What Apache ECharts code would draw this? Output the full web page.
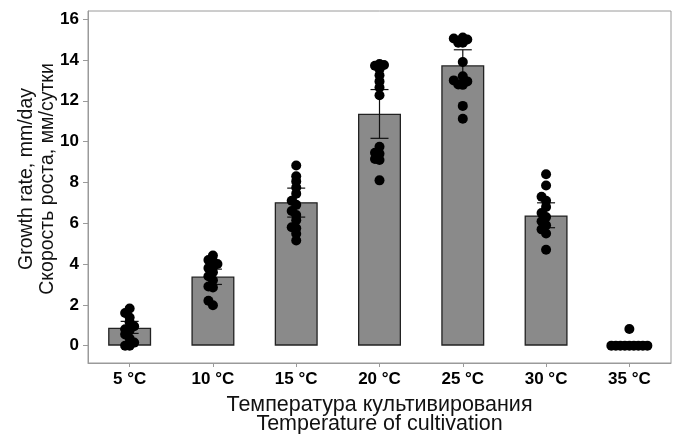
<!DOCTYPE html>
<html>
<head>
<meta charset="utf-8">
<script src="https://cdn.jsdelivr.net/npm/echarts@6/dist/echarts.min.js"></script>
<style>
  html, body { margin: 0; padding: 0; background: #fff; }
  #chart1 { width: 674px; height: 434px; }
</style>
</head>
<body>
<div id="chart1"></div>
<script>
var categories = ['5 °C', '10 °C', '15 °C', '20 °C', '25 °C', '30 °C', '35 °C'];
var means = [0.88, 3.39, 7.03, 11.37, 13.74, 6.38, 0];
var errLow = [0.6, 3.0, 6.3, 10.16, 13.0, 5.78, 0];
var errHigh = [1.19, 3.75, 7.72, 12.55, 14.5, 7.0, 0];
var yTicks = [0, 2, 4, 6, 8, 10, 12, 14, 16];

// individual measurements per temperature
var g5 = [1.82, 1.6, 1.38, 1.15, 0.95, 0.8, 0.75, 0.55, 0.35, 0.15, 0, 0];
var g10 = [4.42, 4.2, 4.15, 4.0, 3.85, 3.8, 3.6, 3.4, 3.2, 2.9, 2.85, 2.2, 1.98];
var g15 = [8.83, 8.3, 8.05, 7.75, 7.45, 7.1, 6.9, 6.6, 6.4, 6.15, 5.8, 5.75, 5.48, 5.15];
var g20 = [13.8, 13.75, 13.72, 13.55, 13.25, 12.95, 12.65, 12.27, 9.75, 9.45, 9.4, 9.15, 9.1, 8.1];
var g25 = [15.05, 15.1, 15.0, 14.85, 14.85, 13.9, 13.2, 13.0, 12.95, 12.8, 12.78, 11.75, 11.12];
var g30 = [8.4, 7.85, 7.3, 7.1, 6.8, 6.5, 6.3, 6.1, 5.9, 5.7, 5.5, 4.7];
var g35 = [0.82, 0, 0, 0, 0, 0, 0, 0, 0, 0];
var groups = [g5, g10, g15, g20, g25, g30, g35];

var font = 'Liberation Sans, Arial, sans-serif';
var frame = '#9a9a9a';
var myChart = echarts.init(document.getElementById('chart1'));

option = {
  animation: false,
  grid: {
    left: 88, right: 3, top: 11, bottom: 71,
    containLabel: false,
    outerBoundsMode: 'none',
    show: true, borderColor: frame, borderWidth: 1
  },
  xAxis: [
    {
      type: 'category',
      data: categories,
      axisLine: { show: true, onZero: false, lineStyle: { color: frame } },
      axisTick: { show: true, alignWithLabel: true, length: 4, lineStyle: { color: frame } },
      axisLabel: { color: '#000', fontWeight: 'bold', fontSize: 17, fontFamily: font, margin: 8 },
      name: 'Температура культивирования\nTemperature of cultivation',
      nameLocation: 'middle',
      nameGap: 33,
      nameTextStyle: { color: '#111', fontSize: 21.5, fontFamily: font, lineHeight: 19 }
    },
    {
      type: 'value', min: -0.5, max: 6.5, show: false
    }
  ],
  yAxis: {
    type: 'value',
    min: -0.85,
    max: 16.4,
    splitLine: { show: false },
    axisLine: { show: true, onZero: false, lineStyle: { color: frame } },
    axisTick: { show: true, length: 5, lineStyle: { color: frame }, customValues: yTicks },
    axisLabel: { color: '#000', fontWeight: 'bold', fontSize: 17, fontFamily: font, margin: 9, customValues: yTicks },
    name: 'Growth rate, mm/day\nСкорость роста, мм/сутки',
    nameLocation: 'middle',
    nameMoveOverlap: false,
    nameGap: 30,
    nameTextStyle: { color: '#111', fontSize: 19.5, fontFamily: font, lineHeight: 21, padding: [0, 0, 0, 16] }
  },
  series: [
    {
      type: 'bar',
      data: means,
      barWidth: 43,
      itemStyle: { color: '#8a8a8a', borderColor: '#222', borderWidth: 1.3 },
      z: 2
    },
    {
      type: 'custom',
      data: categories.map(function (c, i) { return [i, errLow[i], errHigh[i]]; }),
      renderItem: function (params, api) {
        if (api.value(1) === api.value(2)) return null;
        var lo = api.coord([api.value(0), api.value(1)]);
        var hi = api.coord([api.value(0), api.value(2)]);
        var w = 9;
        var st = { stroke: '#111', lineWidth: 1.2 };
        return {
          type: 'group',
          children: [
            { type: 'line', shape: { x1: lo[0], y1: lo[1], x2: hi[0], y2: hi[1] }, style: st },
            { type: 'line', shape: { x1: lo[0] - w, y1: lo[1], x2: lo[0] + w, y2: lo[1] }, style: st },
            { type: 'line', shape: { x1: hi[0] - w, y1: hi[1], x2: hi[0] + w, y2: hi[1] }, style: st }
          ]
        };
      },
      z: 3
    },
    {
      type: 'scatter',
      xAxisIndex: 1,
      symbolSize: 10,
      itemStyle: { color: '#000', opacity: 1 },
      data: [],
      z: 4
    }
  ]
};
myChart.setOption(option);

// simple beeswarm: spread points sideways where they would collide
var gap = 4.5;
var unitPx = myChart.convertToPixel({ xAxisIndex: 1 }, 1) - myChart.convertToPixel({ xAxisIndex: 1 }, 0);
var points = [];
groups.forEach(function (vals, gi) {
  var placed = [];
  vals.slice().sort(function (a, b) { return a - b; }).forEach(function (v) {
    var py = myChart.convertToPixel({ yAxisIndex: 0 }, v);
    for (var k = 0; k < 40; k++) {
      var dx = (k % 2 === 0 ? 1 : -1) * Math.ceil(k / 2) * gap;
      var ok = placed.every(function (p) {
        return Math.hypot(p[0] - dx, p[1] - py) >= gap - 0.01;
      });
      if (ok) { placed.push([dx, py]); points.push([gi + dx / unitPx, v]); break; }
    }
  });
});
myChart.setOption({ series: [{}, {}, { data: points }] });
</script>
</body>
</html>
